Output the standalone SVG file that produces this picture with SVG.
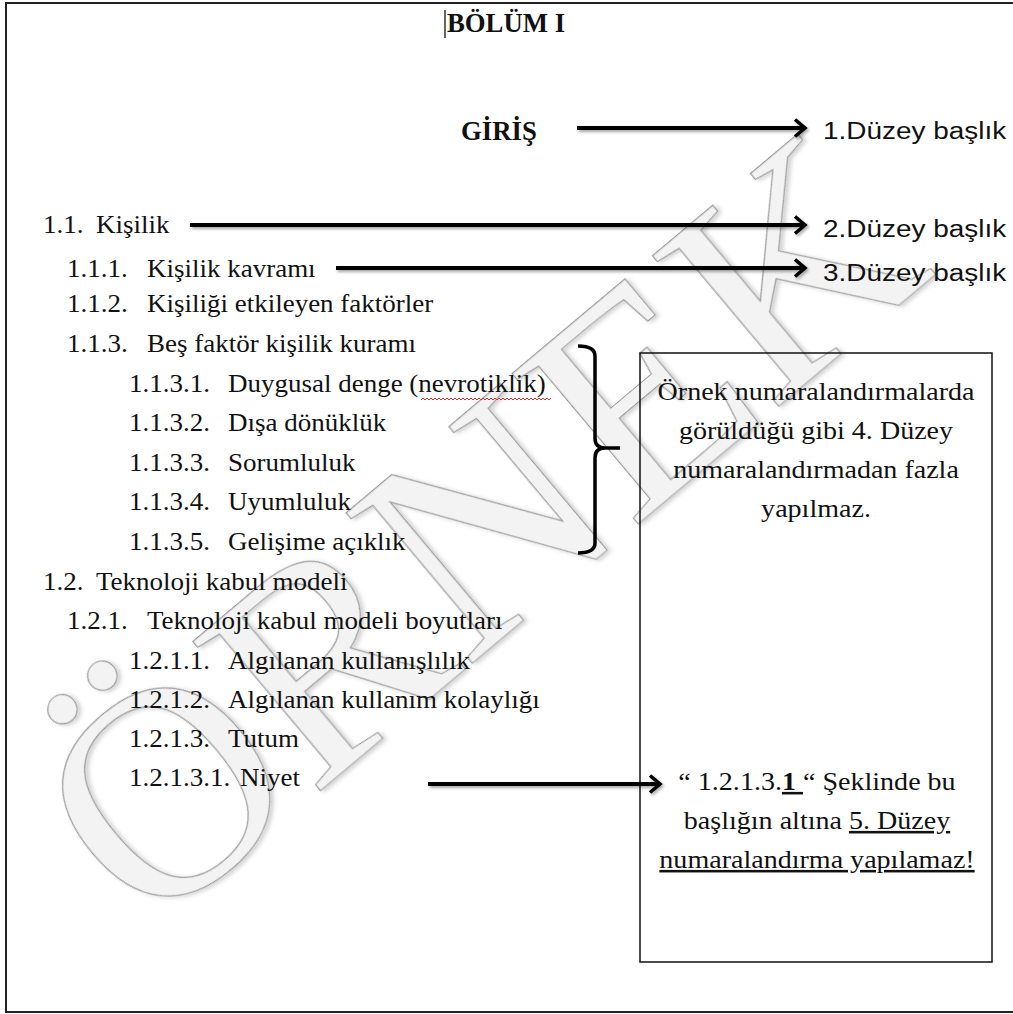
<svg xmlns="http://www.w3.org/2000/svg" width="1013" height="1014" viewBox="0 0 1013 1014">
<style>
.t{font-family:"Liberation Serif","Times New Roman",serif;font-size:25px;fill:#111}
.n{font-family:"Liberation Serif","Times New Roman",serif;font-size:25.5px;fill:#111}
.b{font-family:"Liberation Serif","Times New Roman",serif;font-size:27px;font-weight:bold;fill:#111}
.a{font-family:"Liberation Sans",Arial,sans-serif;font-size:24.5px;fill:#111}
.wm{font-family:"Liberation Serif","Times New Roman",serif;font-size:300px;fill:#f3f3f3;stroke:#9a9a9a;stroke-width:1.2}
.arr{stroke:#000;stroke-width:4;fill:none;marker-end:url(#ah)}
.u{text-decoration:underline}
</style>
<defs>
<marker id="ah" markerUnits="userSpaceOnUse" markerWidth="20" markerHeight="24" viewBox="-14 -12 18 24" refX="0" refY="0" orient="auto">
<path d="M-10,-8.5 L0,0 L-10,8.5" fill="none" stroke="#000" stroke-width="3.5" stroke-linejoin="miter"/>
</marker>
<filter id="sh" x="-10%" y="-50%" width="120%" height="200%">
<feDropShadow dx="1.5" dy="2" stdDeviation="1.5" flood-color="#000" flood-opacity="0.35"/>
</filter>
<filter id="wsh" x="-10%" y="-10%" width="120%" height="120%">
<feDropShadow dx="2" dy="3" stdDeviation="2" flood-color="#000" flood-opacity="0.18"/>
</filter>
</defs>
<rect width="1013" height="1014" fill="#fff"/>
<g id="watermark" transform="translate(478,528) rotate(-40)" filter="url(#wsh)">
<text class="wm" x="0" y="100" text-anchor="middle">ÖRNEK</text>
</g>
<path id="frame" d="M1013,3 H6 V1012 H1013" fill="none" stroke="#222" stroke-width="2"/>
<line id="cursor" x1="445" y1="10" x2="445" y2="38" stroke="#333" stroke-width="1.5"/>
<g id="headings">
<text class="b" transform="translate(447,32) scale(0.99,1)">BÖLÜM I</text>
<text class="b" transform="translate(461,140) scale(0.99,1)">GİRİŞ</text>
</g>
<g id="labels">
<text class="a" transform="translate(823,139) scale(1.14,1)">1.Düzey başlık</text>
<text class="a" transform="translate(823,237) scale(1.14,1)">2.Düzey başlık</text>
<text class="a" transform="translate(823,281) scale(1.14,1)">3.Düzey başlık</text>
</g>
<g id="outline">
<text class="t" transform="translate(43,233) scale(1.08,1)"><tspan x="0">1.1.</tspan><tspan x="49.1">Kişilik</tspan></text>
<text class="t" transform="translate(67,277) scale(1.08,1)"><tspan x="0">1.1.1.</tspan><tspan x="74.1">Kişilik kavramı</tspan></text>
<text class="t" transform="translate(67,312) scale(1.08,1)"><tspan x="0">1.1.2.</tspan><tspan x="74.1">Kişiliği etkileyen faktörler</tspan></text>
<text class="t" transform="translate(67,352) scale(1.08,1)"><tspan x="0">1.1.3.</tspan><tspan x="74.1">Beş faktör kişilik kuramı</tspan></text>
<text class="t" transform="translate(129,392) scale(1.08,1)"><tspan x="0">1.1.3.1.</tspan><tspan x="91.7">Duygusal denge (nevrotiklik)</tspan></text>
<text class="t" transform="translate(129,431) scale(1.08,1)"><tspan x="0">1.1.3.2.</tspan><tspan x="91.7">Dışa dönüklük</tspan></text>
<text class="t" transform="translate(129,471) scale(1.08,1)"><tspan x="0">1.1.3.3.</tspan><tspan x="91.7">Sorumluluk</tspan></text>
<text class="t" transform="translate(129,510) scale(1.08,1)"><tspan x="0">1.1.3.4.</tspan><tspan x="91.7">Uyumluluk</tspan></text>
<text class="t" transform="translate(129,550) scale(1.08,1)"><tspan x="0">1.1.3.5.</tspan><tspan x="91.7">Gelişime açıklık</tspan></text>
<text class="t" transform="translate(43,590) scale(1.08,1)"><tspan x="0">1.2.</tspan><tspan x="49.1">Teknoloji kabul modeli</tspan></text>
<text class="t" transform="translate(67,629) scale(1.08,1)"><tspan x="0">1.2.1.</tspan><tspan x="74.1">Teknoloji kabul modeli boyutları</tspan></text>
<text class="t" transform="translate(129,669) scale(1.08,1)"><tspan x="0">1.2.1.1.</tspan><tspan x="91.7">Algılanan kullanışlılık</tspan></text>
<text class="t" transform="translate(129,708) scale(1.08,1)"><tspan x="0">1.2.1.2.</tspan><tspan x="91.7">Algılanan kullanım kolaylığı</tspan></text>
<text class="t" transform="translate(129,747) scale(1.08,1)"><tspan x="0">1.2.1.3.</tspan><tspan x="91.7">Tutum</tspan></text>
<text class="t" transform="translate(129,786) scale(1.08,1)"><tspan x="0">1.2.1.3.1.</tspan><tspan x="102.8">Niyet</tspan></text>
<path id="spell" d="M421,400 l2,-2 l2,2 l2,-2 l2,2 l2,-2 l2,2 l2,-2 l2,2 l2,-2 l2,2 l2,-2 l2,2 l2,-2 l2,2 l2,-2 l2,2 l2,-2 l2,2 l2,-2 l2,2 l2,-2 l2,2 l2,-2 l2,2 l2,-2 l2,2 l2,-2 l2,2 l2,-2 l2,2 l2,-2 l2,2 l2,-2 l2,2 l2,-2 l2,2 l2,-2 l2,2 l2,-2 l2,2 l2,-2 l2,2 l2,-2 l2,2 l2,-2 l2,2 l2,-2 l2,2 l2,-2 l2,2 l2,-2 l2,2 l2,-2 l2,2 l2,-2 l2,2 l2,-2 l2,2 l2,-2 l2,2 l2,-2 l2,2 l2,-2 l2,2 l2,-2" fill="none" stroke="#e03030" stroke-width="1"/>
</g>
<g id="note-box">
<rect x="640" y="353" width="352" height="609" fill="none" stroke="#111" stroke-width="1.5"/>
<text class="n" text-anchor="middle" transform="translate(816,400) scale(1.1,1)">Örnek numaralandırmalarda</text>
<text class="n" text-anchor="middle" transform="translate(816,439) scale(1.1,1)">görüldüğü gibi 4. Düzey</text>
<text class="n" text-anchor="middle" transform="translate(816,478) scale(1.1,1)">numaralandırmadan fazla</text>
<text class="n" text-anchor="middle" transform="translate(816,517) scale(1.1,1)">yapılmaz.</text>
<text class="n" text-anchor="middle" transform="translate(817,790) scale(1.1,1)" style="white-space:pre">“ 1.2.1.3.<tspan font-weight="bold" class="u">1 </tspan>“ Şeklinde bu</text>
<text class="n" text-anchor="middle" transform="translate(817,829) scale(1.1,1)">başlığın altına <tspan class="u">5. Düzey</tspan></text>
<text class="n u" text-anchor="middle" transform="translate(817,868) scale(1.1,1)">numaralandırma yapılamaz!</text>
</g>
<g id="brace">
<path d="M578,346 Q595,346 595,356 L595,438 Q595,448 605,448 L620,448 M605,448 Q595,448 595,458 L595,543 Q595,553 578,553" fill="none" stroke="#000" stroke-width="3.5"/>
</g>
<g id="connectors" filter="url(#sh)">
<line class="arr" x1="577" y1="128" x2="805" y2="128"/>
<line class="arr" x1="190" y1="225" x2="805" y2="225"/>
<line class="arr" x1="336" y1="268" x2="805" y2="268"/>
<line class="arr" x1="428" y1="784" x2="660" y2="784"/>
</g>
</svg>
